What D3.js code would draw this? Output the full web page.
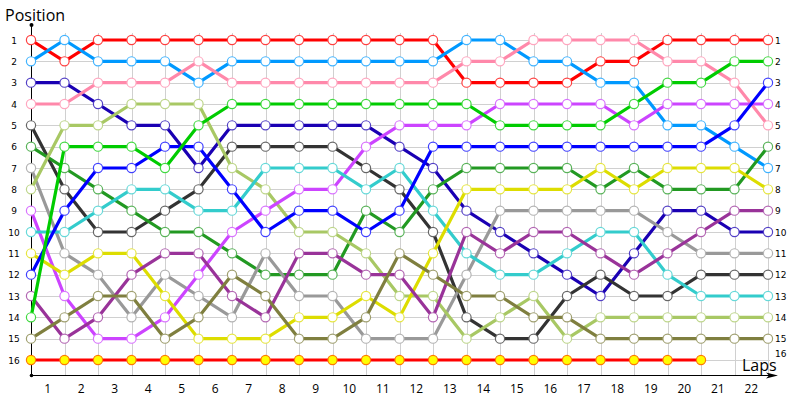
<!DOCTYPE html>
<html><head><meta charset="utf-8">
<script src="https://cdn.jsdelivr.net/npm/d3@7"></script>
<style>body{margin:0;background:#fff}svg{display:block}</style>
</head><body><svg id="c" width="800" height="400"></svg>
<script>
// ---- data ----
const laps = [0,1,2,3,4,5,6,7,8,9,10,11,12,13,14,15,16,17,18,19,20,21,22];
const lapLabels = ["1","2","3","4","5","6","7","8","9","10","11","12","13","14","15","16","17","18","19","20","21","22"];
const positionLabels = ["1","2","3","4","5","6","7","8","9","10","11","12","13","14","15","16"];
const seriesNames = ["red","lightblue","navy","pink","darkgray","darkgreen","lightgray","lightolive","magenta","cyan","yellow","blue","darkpurple","brightgreen","olive","last"];
const seriesColors = ["#ff0000","#0099ff","#1a00b3","#ff88aa","#333333","#229922","#999999","#a8c864","#cc44ff","#33cccc","#dddd00","#0000ff","#993399","#00cc00","#7f7f3f","#ff0000"];
const red        = [1,2,1,1,1,1,1,1,1,1,1,1,1,3,3,3,3,2,2,1,1,1,1];
const lightblue  = [2,1,2,2,2,3,2,2,2,2,2,2,2,1,1,2,2,3,3,5,5,6,7];
const navy       = [3,3,4,5,5,7,5,5,5,5,5,6,7,9,10,11,12,13,11,9,9,10,10];
const pink       = [4,4,3,3,3,2,3,3,3,3,3,3,3,2,2,1,1,1,1,2,2,3,5];
const darkgray   = [5,8,10,10,9,8,6,6,6,6,7,8,10,14,15,15,13,12,13,13,12,12,12];
const darkgreen  = [6,7,8,9,10,10,11,12,12,12,9,10,8,7,7,7,7,8,7,8,8,8,6];
const lightgray  = [7,11,12,14,12,13,14,11,13,13,15,15,15,12,9,9,9,9,9,10,11,11,11];
const lightolive = [8,5,5,4,4,4,7,8,10,10,11,13,13,15,14,13,15,14,14,14,14,14,14];
const magenta    = [9,13,15,15,14,12,10,9,8,8,6,5,5,5,4,4,4,4,5,4,4,4,4];
const cyan       = [10,10,9,8,8,9,9,7,7,7,8,7,9,11,12,12,11,10,10,12,13,13,13];
const yellow     = [11,12,11,11,13,15,15,15,14,14,13,14,11,8,8,8,8,7,8,7,7,7,8];
const blue       = [12,9,7,7,6,6,8,10,9,9,10,9,6,6,6,6,6,6,6,6,6,5,3];
const darkpurple = [13,15,14,12,11,11,13,14,11,11,12,12,14,10,11,10,10,11,12,11,10,9,9];
const brightgreen= [14,6,6,6,7,5,4,4,4,4,4,4,4,4,5,5,5,5,4,3,3,2,2];
const olive      = [15,14,13,13,15,14,12,13,15,15,14,11,12,13,13,14,14,15,15,15,15,15,15];
const last       = [16,16,16,16,16,16,16,16,16,16,16,16,16,16,16,16,16,16,16,16,16];
const seriesValues = [red,lightblue,navy,pink,darkgray,darkgreen,lightgray,lightolive,magenta,cyan,yellow,blue,darkpurple,brightgreen,olive,last];

// ---- drawing ----
const svg = d3.select("#c");
const x = d3.scaleLinear().domain([0,22]).range([31,768]);
const y = d3.scaleLinear().domain([1,16]).range([40,360]);
const gridTop = 33, axisY = 375, axisX = 31;

// grid
const grid = svg.append("g").attr("stroke","#d0d0d0").attr("stroke-width",1);
grid.selectAll("line.v").data(laps.slice(1)).join("line")
  .attr("x1",d=>Math.round(x(d))+0.5).attr("x2",d=>Math.round(x(d))+0.5)
  .attr("y1",gridTop).attr("y2",axisY);
grid.selectAll("line.h").data(positionLabels).join("line")
  .attr("x1",axisX).attr("x2",x(22)+2)
  .attr("y1",(d,i)=>Math.round(y(i+1))+0.5).attr("y2",(d,i)=>Math.round(y(i+1))+0.5);

// axes
svg.append("line").attr("x1",axisX+0.5).attr("x2",axisX+0.5).attr("y1",25).attr("y2",axisY).attr("stroke","#000");
svg.append("circle").attr("cx",axisX+0.5).attr("cy",25).attr("r",2).attr("fill","#000");
svg.append("circle").attr("cx",axisX+0.5).attr("cy",axisY+0.5).attr("r",1.8).attr("fill","#000");
svg.append("line").attr("x1",axisX).attr("x2",772).attr("y1",axisY+0.5).attr("y2",axisY+0.5).attr("stroke","#000");
svg.append("path").attr("d",`M778,${axisY+0.5} L766,${axisY-2.5} L769,${axisY+0.5} L766,${axisY+3.5} Z`).attr("fill","#000");

// lines + markers
const line = d3.line().x((d,i)=>x(laps[i])).y(d=>y(d));
seriesValues.forEach((vals,si)=>{
  const col = seriesColors[si];
  const g = svg.append("g");
  g.append("path").attr("d",line(vals)).attr("fill","none")
    .attr("stroke",col).attr("stroke-width",3.2).attr("stroke-linejoin","round");
  const isLast = si===15;
  const mStroke = isLast ? "#ff7a00" : d3.interpolateRgb(col,"#ffffff")(0.25);
  g.selectAll("circle").data(vals).join("circle")
    .attr("cx",(d,i)=>x(laps[i])).attr("cy",d=>y(d)).attr("r",4.6)
    .attr("fill",isLast?"#ffff00":"#ffffff").attr("stroke",mStroke).attr("stroke-width",1.2);
});

// y labels
const fnum = "'DejaVu Sans', Verdana, sans-serif";
svg.append("g").selectAll("text").data(positionLabels).join("text")
  .attr("x",14).attr("y",(d,i)=>y(i+1)+3.5).attr("text-anchor","middle")
  .attr("font-family",fnum).attr("font-size",9).attr("fill","#000").text(d=>d);
svg.append("g").selectAll("text").data(positionLabels).join("text")
  .attr("x",775).attr("y",(d,i)=>y(i+1)+(i===15?-3:3.5)).attr("text-anchor","start")
  .attr("font-family",fnum).attr("font-size",9).attr("fill","#000").text(d=>d);
// x labels
svg.append("g").selectAll("text").data(lapLabels).join("text")
  .attr("x",(d,i)=>(x(i)+x(i+1))/2).attr("y",393).attr("text-anchor","middle")
  .attr("font-family","'Open Sans', sans-serif").attr("font-size",12).attr("fill","#000").text(d=>d);
// titles
svg.append("text").attr("x",5).attr("y",21).attr("font-family","'Open Sans', sans-serif")
  .attr("font-size",16).attr("fill","#000").text("Position");
svg.append("text").attr("x",742).attr("y",371).attr("font-family","'Open Sans', sans-serif")
  .attr("font-size",16).attr("fill","#000").text("Laps");
</script></body></html>
